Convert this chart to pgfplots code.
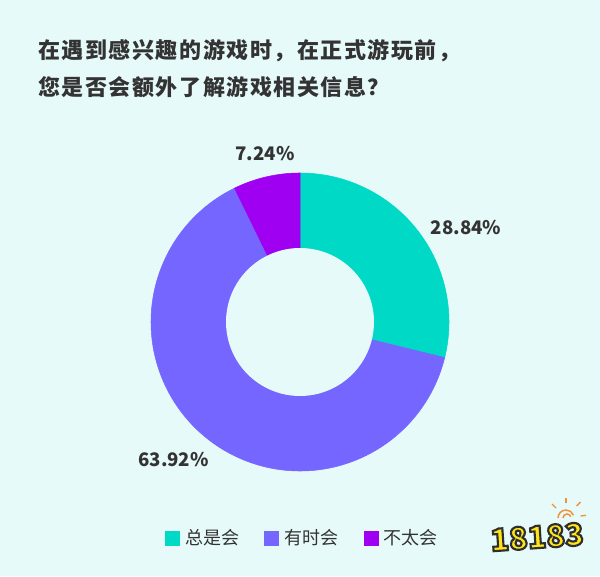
\documentclass[border=0pt]{standalone}
\usepackage{pgfplots}
\pgfplotsset{compat=1.18}
\usepackage{fontspec}
\setmainfont{Noto Sans CJK SC}
\newfontfamily\cjkt[LetterSpace=7]{Noto Sans CJK SC}
\definecolor{bg}{HTML}{E6FAF9}
\definecolor{cA}{HTML}{00D9C6}
\definecolor{cB}{HTML}{7466FF}
\definecolor{cC}{HTML}{A000F2}
\definecolor{txt}{HTML}{333333}
\definecolor{logoY}{HTML}{FFE41A}
\definecolor{logoO}{HTML}{F0923A}
% shares (percent)
\def\pA{28.84}
\def\pB{63.92}
\def\pC{7.24}
\pgfmathsetmacro\aStart{90}
\pgfmathsetmacro\aA{90-3.6*\pA}
\pgfmathsetmacro\aB{\aA-3.6*\pB}
\pgfmathsetmacro\aC{\aB-3.6*\pC}
\begin{document}
\begin{tikzpicture}
\begin{axis}[
  x=0.75pt, y=0.75pt,
  xmin=0, xmax=600, ymin=0, ymax=576,
  axis lines=none, ticks=none,
  axis background/.style={fill=bg},
  clip=false,
  legend style={at={(axis cs:165,38)}, anchor=west, draw=none, fill=none,
    legend columns=3, inner sep=0pt,
    font=\fontsize{13.5}{16}\selectfont\color{txt},
    /tikz/every even column/.append style={column sep=15pt},
    nodes={inner xsep=4pt, inner ysep=0pt}},
  legend cell align=left,
  legend image code/.code={\fill[#1] (0pt,-5.25pt) rectangle (10.5pt,5.25pt);},
]
\addplot[fill=cA, draw=cA, domain=\aA:\aStart, samples=100]
  ({300+149*cos(x)},{254+149*sin(x)}) -- (axis cs:300,254) -- cycle;
\addlegendentry{总是会}
\addplot[fill=cB, draw=cB, domain=\aB:\aA, samples=200]
  ({300+149*cos(x)},{254+149*sin(x)}) -- (axis cs:300,254) -- cycle;
\addlegendentry{有时会}
\addplot[fill=cC, draw=cC, domain=\aC:\aB, samples=40]
  ({300+149*cos(x)},{254+149*sin(x)}) -- (axis cs:300,254) -- cycle;
\addlegendentry{不太会}
\addplot[fill=bg, draw=none, domain=0:360, samples=150, forget plot]
  ({300+74*cos(x)},{254+74*sin(x)}) -- cycle;

% title
\node[anchor=west, inner sep=0pt, text=txt, font=\cjkt\bfseries\fontsize{16.5}{19}\selectfont]
  at (axis cs:38,525) {在遇到感兴趣的游戏时，在正式游玩前，};
\node[anchor=west, inner sep=0pt, text=txt, font=\cjkt\bfseries\fontsize{16.5}{19}\selectfont]
  at (axis cs:38,488.5) {您是否会额外了解游戏相关信息？};

% value labels
\node[inner sep=0pt, text=txt, font=\bfseries\fontsize{14}{17}\selectfont] at (axis cs:265,422) {7.24\%};
\node[inner sep=0pt, text=txt, font=\bfseries\fontsize{14}{17}\selectfont] at (axis cs:466,348) {28.84\%};
\node[inner sep=0pt, text=txt, font=\bfseries\fontsize{14}{17}\selectfont] at (axis cs:173.5,116) {63.92\%};

\coordinate (logo) at (axis cs:537,39);
\coordinate (sun) at (axis cs:558,58);
\end{axis}
% logo (decoration): yellow text with dark outline
\node[inner sep=0pt, text=logoY, font=\bfseries\fontsize{23}{25}\selectfont, rotate=4]
  at (logo) {\special{pdf:literal direct 0.18 0.18 0.18 RG 2 Tr 1.6 w}18183\special{pdf:literal direct 0 Tr}};
\draw[logoO, line width=1.1pt] (sun) arc[start angle=180, end angle=20, radius=6pt];
\draw[logoO, line width=1.1pt] ([shift={(3.75pt,0)}]sun) arc[start angle=180, end angle=20, radius=3pt];
\draw[logoO, line width=1pt] ([shift={(-1.5pt,7.5pt)}]sun) -- ++(-3pt,3pt);
\draw[logoO, line width=1pt] ([shift={(6pt,11pt)}]sun) -- ++(0,4pt);
\draw[logoO, line width=1pt] ([shift={(14pt,9pt)}]sun) -- ++(3pt,3pt);
\draw[logoO, line width=1pt] ([shift={(17pt,1.5pt)}]sun) -- ++(4pt,0.5pt);
\end{tikzpicture}
\end{document}
